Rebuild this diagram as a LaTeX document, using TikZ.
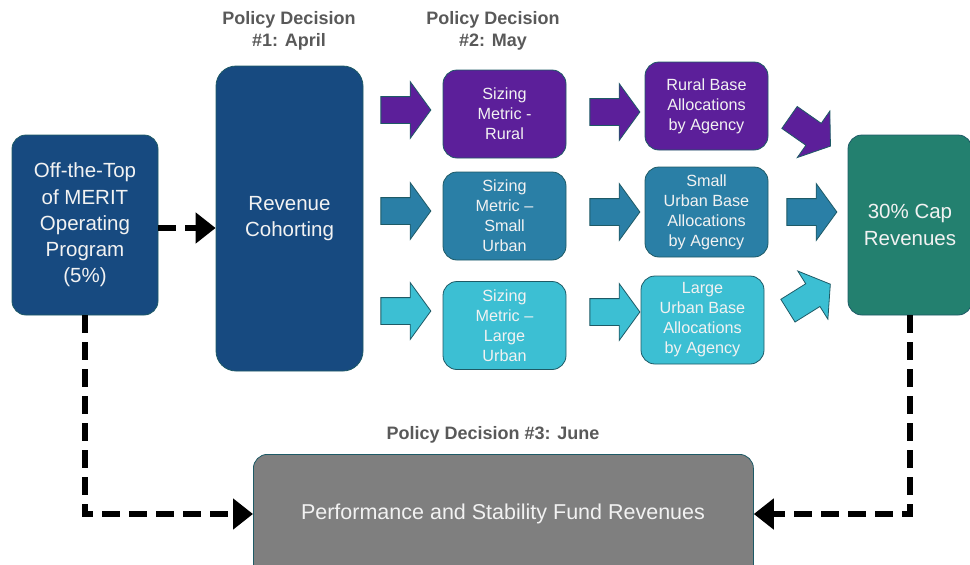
\documentclass[tikz,border=0pt]{standalone}
\usepackage{fontspec}
\setmainfont{Liberation Sans}
\usetikzlibrary{shapes.arrows,arrows.meta}
\definecolor{dblue}{HTML}{174A80}
\definecolor{purp}{HTML}{5C1F9A}
\definecolor{mblue}{HTML}{2A7FA6}
\definecolor{lblue}{HTML}{3CBFD3}
\definecolor{tgreen}{HTML}{23806F}
\definecolor{gbox}{HTML}{7F7F7F}
\definecolor{edgec}{HTML}{1E5A66}
\definecolor{headc}{HTML}{595959}
\definecolor{txt}{HTML}{F2F2F2}
\tikzset{
  box/.style={draw=edgec, line width=0.8pt, rounded corners=14pt, text=txt, align=center, inner sep=0pt},
  bigtext/.style={font=\fontsize{20.5}{26.3}\selectfont},
  smalltext/.style={font=\fontsize{16.2}{20}\selectfont},
  head/.style={font=\bfseries\fontsize{18}{22}\selectfont, text=headc, align=center},
  barrow/.style={single arrow, draw=edgec, line width=0.8pt, minimum height=50pt,
     single arrow head extend=15pt, single arrow tip angle=108, inner sep=0pt, fill=#1},
  dashconn/.style={line width=6pt, dash pattern=on 18pt off 9pt, -{Triangle[length=20pt,width=30pt]}}
}
\begin{document}
\begin{tikzpicture}[x=1pt,y=-1pt]
\useasboundingbox (0,0) rectangle (970,565);
\clip (0,0) rectangle (970,565);
% headers
\node[head] (h1) at (289,31) {Policy Decision\\\#1: April};
\node[head] (h2) at (493,31) {Policy Decision\\\#2: May};
\node[head] (h3) at (493,435) {Policy Decision \#3: June};
% main boxes
\node[box,bigtext,fill=dblue,minimum width=146pt,minimum height=180pt] (off) at (85,225) {Off-the-Top\\of MERIT\\Operating\\Program\\(5\%)};
\node[box,bigtext,fill=dblue,minimum width=147pt,minimum height=305pt,rounded corners=20pt] (rev) at (289.5,218.5) {Revenue\\Cohorting};
\node[box,smalltext,fill=purp,minimum width=123pt,minimum height=88pt] (s1) at (504.5,114) {Sizing\\Metric -\\Rural};
\node[box,smalltext,fill=mblue,minimum width=123pt,minimum height=88pt] (s2) at (504.5,216) {Sizing\\Metric --\\Small\\Urban};
\node[box,smalltext,fill=lblue,minimum width=123pt,minimum height=88pt] (s3) at (504.5,325.5) {Sizing\\Metric --\\Large\\Urban};
\node[box,smalltext,fill=purp,minimum width=123pt,minimum height=88pt] (a1) at (706.5,106) {Rural Base\\Allocations\\by Agency};
\node[box,smalltext,fill=mblue,minimum width=123pt,minimum height=90pt] (a2) at (706.5,212) {Small\\Urban Base\\Allocations\\by Agency};
\node[box,smalltext,fill=lblue,minimum width=123pt,minimum height=88pt] (a3) at (702.5,320) {Large\\Urban Base\\Allocations\\by Agency};
\node[box,bigtext,fill=tgreen,minimum width=124pt,minimum height=180pt] (cap) at (910,225) {30\% Cap\\Revenues};
\node[box,bigtext,fill=gbox,minimum width=500pt,minimum height=140pt,anchor=north west] (perf) at (253,454) {};
\node[font=\fontsize{21.5}{26}\selectfont,text=txt] (perft) at (503,514) {Performance and Stability Fund Revenues};
% block arrows
\node[barrow=purp] (b11) at (401,110) {\rule{0pt}{26pt}};
\node[barrow=mblue] (b12) at (401,211) {\rule{0pt}{26pt}};
\node[barrow=lblue] (b13) at (401,311) {\rule{0pt}{26pt}};
\node[barrow=purp] (b21) at (610,112) {\rule{0pt}{26pt}};
\node[barrow=mblue] (b22) at (610,212) {\rule{0pt}{26pt}};
\node[barrow=lblue] (b23) at (610,312) {\rule{0pt}{26pt}};
\node[barrow=purp,rotate=-35] (b31) at (806,129) {\rule{0pt}{26pt}};
\node[barrow=mblue] (b32) at (807,212) {\rule{0pt}{26pt}};
\node[barrow=lblue,rotate=32] (b33) at (805,300) {\rule{0pt}{26pt}};
% dashed connectors
\coordinate (offb) at (off.south);
\coordinate (capb) at (cap.south);
\draw[dashconn] (off.east |- 0,228) -- (rev.west |- 0,228);
\draw[dashconn] (offb) |- (perf.west |- perft);
\draw[dashconn] (capb) |- (perf.east |- perft);
\end{tikzpicture}
\end{document}
